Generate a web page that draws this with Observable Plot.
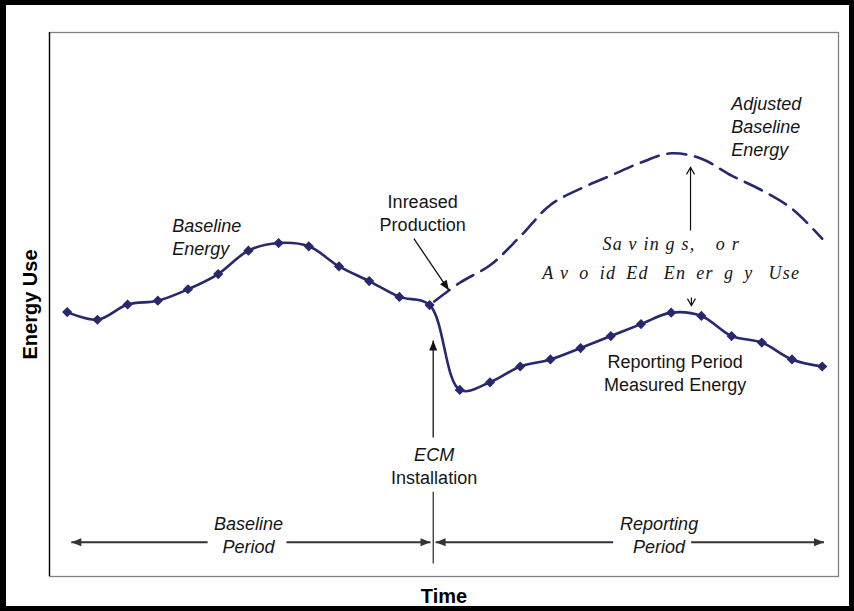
<!DOCTYPE html>
<html><head><meta charset="utf-8">
<script src="https://cdn.jsdelivr.net/npm/d3@7"></script>
<script src="https://cdn.jsdelivr.net/npm/@observablehq/plot@0.6"></script>
<style>
body{margin:0;background:#fff;}
#wrap{position:relative;width:854px;height:611px;overflow:hidden;background:#fff;}
#wrap svg{display:block;}
#border{position:absolute;left:0;top:0;width:854px;height:611px;box-sizing:border-box;border:5px solid #000;border-left-width:6px;pointer-events:none;}
</style></head><body><div id="wrap"><div id="border"></div></div>
<script>
// Time periods (months)
const periods = [1,2,3,4,5,6,7,8,9,10,11,12,13,14,15,16,17,18,19,20,21,22,23,24,25,26];
// Measured energy use: baseline (1-13) then reporting period (13-26)
const measuredEnergy = [48.6,47.2,50.0,50.7,52.8,55.6,59.9,61.3,60.7,57.0,54.3,51.4,49.9,
                        34.3,35.7,38.6,39.9,42.0,44.2,46.4,48.5,47.9,44.2,43.0,39.9,38.6];
// Adjusted baseline energy (reporting period)
const adjustedPeriods = [13,14,15,16,17,18,19,20,21,22,23,24,25,26];
const adjustedBaseline = [49.9,54.0,57.2,62.5,68.3,71.3,73.7,76.1,77.8,76.8,73.7,71.0,67.6,62.1];

const xDomain = [0.414, 26.54];
const yDomain = [0, 100];

// Annotation texts (positions in data units)
const labels = [
  {text:"Baseline\nEnergy", x:4.48, y:62.6, anchor:"start", style:"italic"},
  {text:"Inreased\nProduction", x:12.77, y:67.05, anchor:"middle", style:"normal"},
  {text:"Adjusted\nBaseline\nEnergy", x:22.99, y:82.9, anchor:"start", style:"italic"},
  {text:"Reporting Period\nMeasured Energy", x:21.13, y:37.6, anchor:"middle", style:"normal"},
  {text:"ECM", x:13.15, y:22.55, anchor:"middle", style:"italic"},
  {text:"Installation", x:13.15, y:18.3, anchor:"middle", style:"normal"},
  {text:"Baseline\nPeriod", x:7.0, y:7.8, anchor:"middle", style:"italic"},
  {text:"Reporting\nPeriod", x:20.6, y:7.8, anchor:"middle", style:"italic"}
];
const savingsLines = ["Sa v in g s,\u2002\u2002o r", "A v\u2002o\u2002id\u2002Ed\u2002\u2009En\u2002er\u2002g\u2002y\u2002\u2009Use"];
const savingsPos = [{x:21.0, y:61.0}, {x:21.0, y:55.8}];

// Arrow / line segments: head at end ("filled"/"open") or none
const segments = [
  {x1:12.48, y1:62.1, x2:13.64, y2:52.6, head:"filled", w:1.3, c:"#111"},
  {x1:13.12, y1:25.55, x2:13.12, y2:43.4, head:"filled", w:1.3, c:"#111"},
  {x1:13.12, y1:15.6, x2:13.12, y2:2.4, head:null, w:1.1, c:"#111"},
  {x1:21.64, y1:63.6, x2:21.64, y2:75.2, head:"open", w:1.2, c:"#111"},
  {x1:21.67, y1:51.3, x2:21.67, y2:49.8, head:"open", w:1.2, c:"#111"},
  {x1:5.65, y1:6.3, x2:1.136, y2:6.3, head:"filled", w:1.8, c:"#333"},
  {x1:8.26, y1:6.3, x2:13.03, y2:6.3, head:"filled", w:1.8, c:"#333"},
  {x1:19.08, y1:6.3, x2:13.2, y2:6.3, head:"filled", w:1.8, c:"#333"},
  {x1:21.66, y1:6.3, x2:26.06, y2:6.3, head:"filled", w:1.8, c:"#333"}
];

const W = 854, H = 611, mL = 49, mR = 16, mT = 32, mB = 35;
const kx = (W - mL - mR) / (xDomain[1] - xDomain[0]);
const ky = (H - mT - mB) / (yDomain[1] - yDomain[0]);
const heads = segments.filter(s => s.head).map(s => ({
  x: s.x2, y: s.y2, type: s.head, c: s.c,
  rot: Math.atan2((s.x2 - s.x1) * kx, (s.y2 - s.y1) * ky) * 180 / Math.PI
}));

const headFilled = {draw(ctx){ ctx.moveTo(0,0); ctx.lineTo(4,10); ctx.lineTo(-4,10); ctx.closePath(); }};
const headOpen = {draw(ctx){ ctx.moveTo(-4,7); ctx.lineTo(0,0); ctx.lineTo(4,7); }};

const measured = periods.map((p, i) => ({p, v: measuredEnergy[i]}));
const adjusted = adjustedPeriods.map((p, i) => ({p, v: adjustedBaseline[i]}));

const navy = "#28286f";
const sans = "'Liberation Sans', Arial, sans-serif";

const chart = Plot.plot({
  width: W, height: H,
  marginLeft: mL, marginRight: mR, marginTop: mT, marginBottom: mB,
  style: {fontFamily: sans, background: "#fff"},
  x: {domain: xDomain, axis: null},
  y: {domain: yDomain, axis: null},
  marks: [
    Plot.frame({stroke: "#808080", strokeWidth: 1.3}),
    Plot.ruleX([xDomain[0]], {stroke: "#000", strokeWidth: 1.3}),
    Plot.line(adjusted, {x: "p", y: "v", stroke: navy, strokeWidth: 2.6, strokeDasharray: "19,9", strokeDashoffset: 22, curve: "catmull-rom"}),
    Plot.line(measured, {x: "p", y: "v", stroke: navy, strokeWidth: 2.6, curve: "catmull-rom"}),
    Plot.dot(measured, {x: "p", y: "v", symbol: "diamond2", r: 4.6, fill: navy, stroke: "none"}),
    Plot.link(segments, {x1: "x1", y1: "y1", x2: "x2", y2: "y2", stroke: d => d.c, strokeWidth: d => d.w}),
    Plot.dot(heads.filter(d => d.type === "filled"), {x: "x", y: "y", rotate: "rot", symbol: headFilled, fill: d => d.c, stroke: "none"}),
    Plot.dot(heads.filter(d => d.type === "open"), {x: "x", y: "y", rotate: "rot", symbol: headOpen, fill: "none", stroke: "#111", strokeWidth: 1.2}),
    Plot.text(labels.filter(d => d.anchor === "start" && d.style === "italic"), {x: "x", y: "y", text: "text", textAnchor: "start", lineAnchor: "middle", fontStyle: "italic", fontSize: 18, lineHeight: 1.3, fill: "#151515"}),
    Plot.text(labels.filter(d => d.anchor === "middle" && d.style === "italic"), {x: "x", y: "y", text: "text", textAnchor: "middle", lineAnchor: "middle", fontStyle: "italic", fontSize: 18, lineHeight: 1.28, fill: "#151515"}),
    Plot.text(labels.filter(d => d.style === "normal"), {x: "x", y: "y", text: "text", textAnchor: "middle", lineAnchor: "middle", fontSize: 18, lineHeight: 1.28, fill: "#151515"}),
    Plot.text(savingsLines, {x: (d, i) => savingsPos[i].x, y: (d, i) => savingsPos[i].y, text: d => d, textAnchor: "middle", lineAnchor: "middle", fontFamily: "'Liberation Serif', 'Times New Roman', serif", fontStyle: "italic", fontSize: 18, fill: "#151515"}),
    Plot.text(["Energy Use"], {frameAnchor: "left", dx: -19, rotate: -90, text: d => d, fontWeight: "bold", fontSize: 20, fill: "#000", textAnchor: "middle", lineAnchor: "middle"}),
    Plot.text(["Time"], {frameAnchor: "bottom", dy: 20.5, text: d => d, fontWeight: "bold", fontSize: 20, fill: "#000", textAnchor: "middle", lineAnchor: "middle"})
  ]
});

d3.select(chart).selectAll("text").filter(function(){ return savingsLines.includes(this.textContent); })
  .attr("letter-spacing", "1.2px");

document.getElementById("wrap").insertBefore(chart, document.getElementById("border"));
</script>
</body></html>
